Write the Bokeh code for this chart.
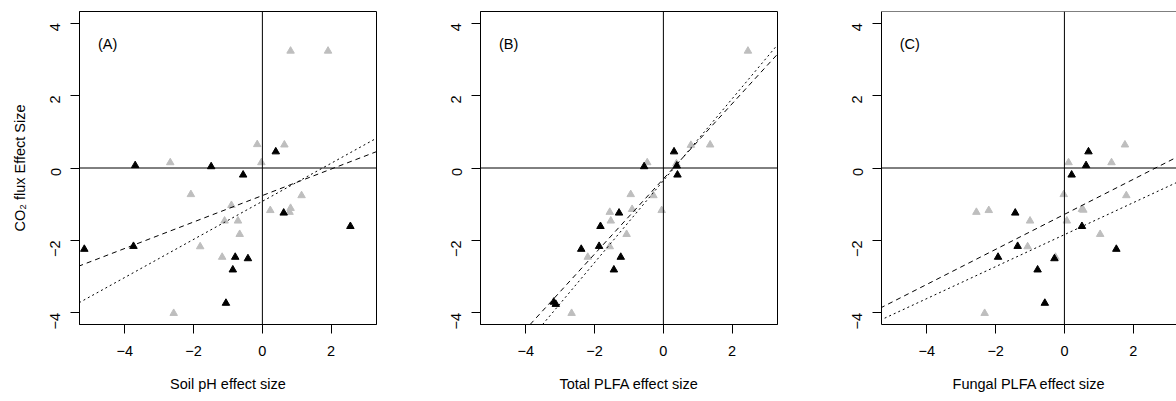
import math
from bokeh.plotting import figure
from bokeh.models import Span, Slope, FixedTicker, Range1d
from bokeh.layouts import row
from bokeh.core.properties import value
from bokeh.embed import file_html
from bokeh.resources import INLINE

# ---------------- data ----------------
panel_labels = ["(A)", "(B)", "(C)"]
x_titles = ["Soil pH effect size", "Total PLFA effect size", "Fungal PLFA effect size"]
y_title = "CO\u2082 flux Effect Size"
x_ticks = [-4, -2, 0, 2]
y_ticks = [-4, -2, 0, 2, 4]

# Panel A: soil pH
a_gray_x = [0.82, 1.91, -0.15, 0.64, -2.68, -0.03, -2.08, -0.90, 1.14, 0.23, 0.82, 0.79, -1.10, -0.71, -0.66, -1.81, -1.17, -2.58]
a_gray_y = [3.23, 3.23, 0.65, 0.64, 0.15, 0.15, -0.73, -1.03, -0.76, -1.17, -1.11, -1.22, -1.46, -1.46, -1.83, -2.17, -2.46, -4.01]
a_black_x = [0.39, -3.70, -1.49, -0.56, 0.62, 2.56, -5.18, -3.75, -0.79, -0.42, -0.86, -1.06]
a_black_y = [0.45, 0.07, 0.04, -0.19, -1.24, -1.61, -2.24, -2.16, -2.46, -2.50, -2.81, -3.73]

# Panel B: total PLFA
b_gray_x = [2.46, 0.80, 1.36, -0.47, 0.38, -0.95, -0.29, -0.91, -0.05, -1.56, -1.53, -1.07, -1.56, -2.20, -2.67]
b_gray_y = [3.23, 0.63, 0.64, 0.15, 0.12, -0.73, -0.76, -1.14, -1.17, -1.22, -1.46, -1.83, -2.17, -2.46, -4.01]
b_black_x = [0.31, -0.56, 0.39, 0.41, -1.29, -1.83, -2.39, -1.87, -1.24, -1.44, -3.19, -3.13]
b_black_y = [0.45, 0.04, 0.06, -0.19, -1.24, -1.61, -2.24, -2.16, -2.46, -2.81, -3.70, -3.76]

# Panel C: fungal PLFA
c_gray_x = [1.76, 0.12, 1.37, -0.02, 1.80, -2.56, -2.20, 0.51, 0.55, -1.00, 0.07, 1.04, -1.07, -0.26, -2.32]
c_gray_y = [0.64, 0.15, 0.15, -0.73, -0.76, -1.22, -1.17, -1.14, -1.16, -1.46, -1.46, -1.83, -2.17, -2.46, -4.01]
c_black_x = [0.70, 0.63, 0.21, -1.43, 0.51, -1.36, 1.51, -1.93, -0.29, -0.78, -0.57]
c_black_y = [0.45, 0.07, -0.19, -1.24, -1.61, -2.16, -2.24, -2.46, -2.50, -2.81, -3.73]

# regression lines (slope, intercept) per panel
dashed_slope = [0.365, 1.037, 0.483]
dashed_intercept = [-0.76, -0.30, -1.28]
dotted_slope = [0.525, 1.130, 0.441]
dotted_intercept = [-0.92, -0.35, -1.84]

gray_x = [a_gray_x, b_gray_x, c_gray_x]
gray_y = [a_gray_y, b_gray_y, c_gray_y]
black_x = [a_black_x, b_black_x, c_black_x]
black_y = [a_black_y, b_black_y, c_black_y]

# ---------------- styling ----------------
FONT = "Liberation Sans"
FS = "14.5px"
GRAY = "#BEBEBE"

widths = [409, 401, 366]
left_borders = [79, 71, 71]
right_borders = [33, 33, 0]
x_ends = [3.32, 3.32, 3.26]

figs = []
for i in range(3):
    p = figure(width=widths[i], height=400,
               x_range=Range1d(-5.32, x_ends[i]), y_range=Range1d(-4.32, 4.32),
               output_backend="svg", toolbar_location=None,
               min_border_left=left_borders[i], min_border_right=right_borders[i],
               min_border_top=11, min_border_bottom=76)
    p.grid.visible = False
    p.background_fill_color = "white"
    p.border_fill_color = "white"
    if i < 2:
        p.outline_line_color = "black"
        p.outline_line_width = 1
        p.outline_line_alpha = 1.0
    else:
        p.outline_line_color = None
        p.add_layout(Span(location=4.32, dimension="width", line_color="black", line_width=1))

    for ax in (p.xaxis[0], p.yaxis[0]):
        ax.axis_line_color = "black"
        ax.axis_line_width = 1
        ax.major_tick_line_color = "black"
        ax.major_tick_in = 0
        ax.major_tick_out = 9
        ax.minor_tick_line_color = None
        ax.major_label_text_font = FONT
        ax.major_label_text_font_size = FS
        ax.major_label_text_color = "black"
        ax.axis_label_text_font = FONT
        ax.axis_label_text_font_size = FS
        ax.axis_label_text_font_style = "normal"
        ax.axis_label_text_color = "black"

    p.xaxis.ticker = FixedTicker(ticks=x_ticks)
    p.yaxis.ticker = FixedTicker(ticks=y_ticks)
    p.xaxis.major_label_standoff = 12
    p.xaxis.axis_label_standoff = 17
    p.yaxis.major_label_orientation = math.pi / 2
    p.yaxis.major_label_standoff = 15
    p.yaxis.axis_label_standoff = 15
    p.xaxis.axis_label = x_titles[i]
    if i == 0:
        p.yaxis.axis_label = y_title

    p.scatter(gray_x[i], gray_y[i], marker="triangle", size=7.5,
              fill_color=GRAY, line_color=GRAY)
    p.scatter(black_x[i], black_y[i], marker="triangle", size=7.5,
              fill_color="black", line_color="black")

    p.add_layout(Span(location=0, dimension="width", line_color="black", line_width=1))
    p.add_layout(Span(location=0, dimension="height", line_color="black", line_width=1))

    p.add_layout(Slope(gradient=dashed_slope[i], y_intercept=dashed_intercept[i],
                       line_color="black", line_width=1, line_dash="5 4"))
    p.add_layout(Slope(gradient=dotted_slope[i], y_intercept=dotted_intercept[i],
                       line_color="black", line_width=1, line_dash="2 3"))

    p.text(x=[-4.5], y=[3.42], text=[panel_labels[i]], text_align="center",
           text_baseline="middle", text_font=value(FONT), text_font_size=FS,
           text_color="black")
    figs.append(p)

layout = row(*figs)
open("out.html", "w").write(file_html(layout, INLINE))
